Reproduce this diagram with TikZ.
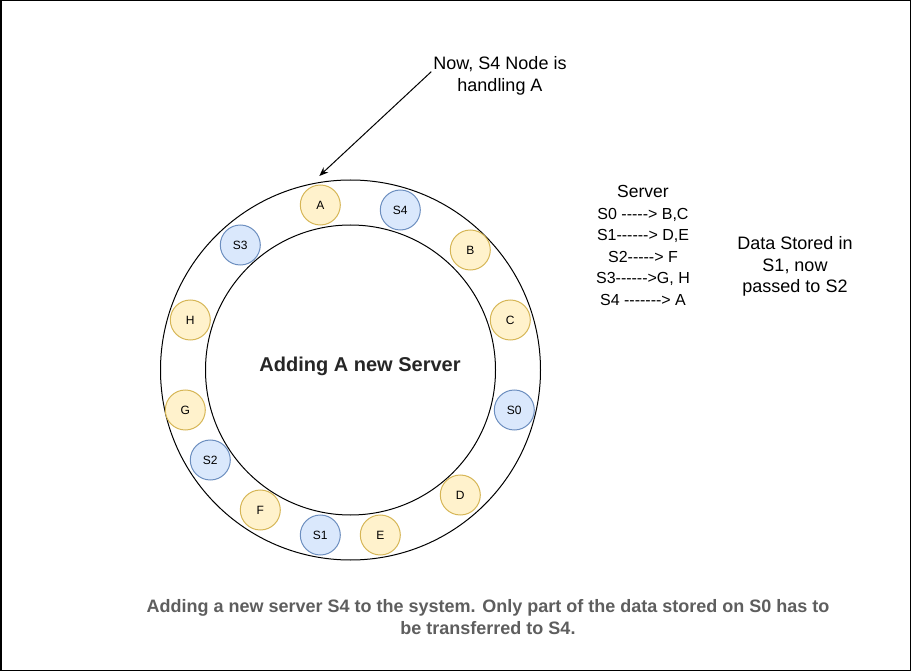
\documentclass[tikz,border=0pt]{standalone}
\usepackage{fontspec}
\setmainfont{Liberation Sans}[Ligatures=TeXOff]
\usetikzlibrary{arrows.meta}
\definecolor{yfill}{HTML}{FFF2CC}
\definecolor{ystroke}{HTML}{D6B656}
\definecolor{bfill}{HTML}{DAE8FC}
\definecolor{bstroke}{HTML}{6C8EBF}
\definecolor{capgray}{HTML}{5E5E5E}
\tikzset{
  keynode/.style={circle, draw=ystroke, fill=yfill, line width=1pt, minimum size=40pt, inner sep=0pt, font=\fontsize{12}{14}\selectfont},
  srvnode/.style={circle, draw=bstroke, fill=bfill, line width=1pt, minimum size=40pt, inner sep=0pt, font=\fontsize{12}{14}\selectfont},
  ring/.style={circle, draw=black, line width=1pt, inner sep=0pt},
  plaintext/.style={align=center, inner sep=0pt, font=\fontsize{18}{21.6}\selectfont},
}
\begin{document}
\begin{tikzpicture}[x=1pt,y=-1pt]
\useasboundingbox (0,0) rectangle (911,671);
\draw[line width=1.5pt] (0.75,0.75) rectangle (910.25,670.25);
% rings
\node[ring, minimum size=380pt] (outer) at (350.5,370) {};
\node[ring, minimum size=290pt] (inner) at (350.5,370) {};
\node[font=\fontsize{20}{24}\selectfont\bfseries, text=black!85] (title) at (360,366.7) {Adding A new Server};
% keys and servers
\node[keynode] (A) at (320.3,205) {A};
\node[srvnode] (S4) at (400.3,210) {S4};
\node[keynode] (B) at (470.3,250) {B};
\node[keynode] (C) at (510.3,320) {C};
\node[srvnode] (S0) at (514.3,410) {S0};
\node[keynode] (D) at (460.3,495) {D};
\node[keynode] (E) at (380.3,535) {E};
\node[srvnode] (S1) at (320.3,535) {S1};
\node[keynode] (F) at (260.3,510) {F};
\node[srvnode] (S2) at (210.3,460) {S2};
\node[keynode] (G) at (185.3,410) {G};
\node[keynode] (H) at (190.3,320) {H};
\node[srvnode] (S3) at (240.3,245) {S3};
% annotation
\node[plaintext] (now) at (500,76) {Now, S4 Node is\\handling A};
\coordinate (tip) at (319.3,176);
\draw[line width=1pt, -{Stealth[length=9pt,width=7pt]}] ([yshift=4.3pt,xshift=-2pt]now.west) -- (tip);
% server list
\node[plaintext, font=\fontsize{16}{21.5}\selectfont] (list) at (643,245.5) {{\fontsize{17.5}{21.5}\selectfont Server}\\S0 -----> B,C\\S1------> D,E\\S2-----> F\\S3------>G, H\\S4 -------> A};
\node[plaintext] (data) at (795,266.5) {Data Stored in\\S1, now\\passed to S2};
% caption
\node[plaintext, font=\fontsize{18}{21.6}\selectfont\bfseries, text=capgray] (caption) at (488,617) {Adding a new server S4 to the system. Only part of the data stored on S0 has to\\be transferred to S4.};
\end{tikzpicture}
\end{document}
